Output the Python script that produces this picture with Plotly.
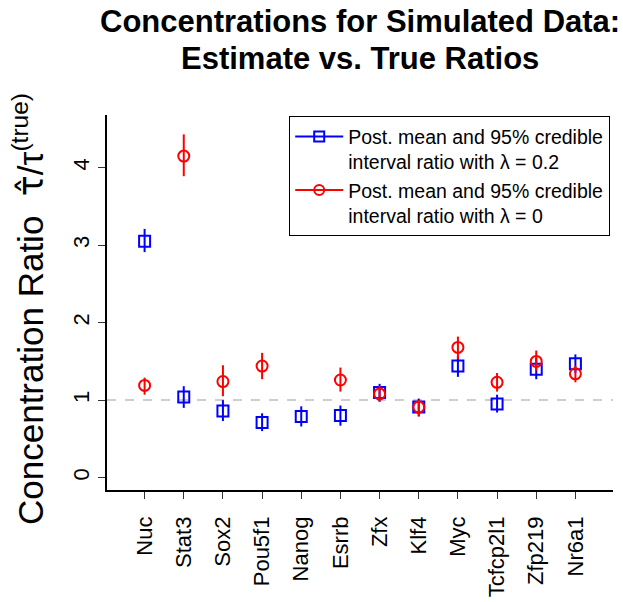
import plotly.graph_objects as go

# Transcription factors on the x axis
genes = ["Nuc", "Stat3", "Sox2", "Pou5f1", "Nanog", "Esrrb", "Zfx", "Klf4",
         "Myc", "Tcfcp2l1", "Zfp219", "Nr6a1"]

# Posterior mean ratio and 95% credible interval, lambda = 0.2
mean_l02 = [3.05, 1.04, 0.86, 0.71, 0.79, 0.80, 1.10, 0.91, 1.44, 0.95, 1.40, 1.47]
low_l02 = [2.91, 0.90, 0.73, 0.60, 0.66, 0.67, 0.98, 0.79, 1.30, 0.84, 1.27, 1.35]
high_l02 = [3.21, 1.18, 1.00, 0.83, 0.92, 0.93, 1.21, 1.02, 1.57, 1.07, 1.55, 1.59]

# Posterior mean ratio and 95% credible interval, lambda = 0 (Nanog not available)
mean_l0 = [1.19, 4.15, 1.24, 1.44, None, 1.26, 1.08, 0.91, 1.68, 1.23, 1.50, 1.34]
low_l0 = [1.07, 3.89, 1.05, 1.27, None, 1.11, 0.98, 0.79, 1.53, 1.11, 1.38, 1.23]
high_l0 = [1.29, 4.43, 1.45, 1.61, None, 1.42, 1.18, 1.00, 1.82, 1.35, 1.64, 1.44]

yticks = [0, 1, 2, 3, 4]

BLUE = "#0000FF"
RED = "#FF0000"
FONT = "Liberation Sans, Arial, Helvetica, sans-serif"

# plot area in pixels: left 107, right 613, top 115, bottom 490
PLOT_TOP, PLOT_BOTTOM, PLOT_LEFT, PLOT_W = 115, 490, 107, 506


def py(pix):
    """paper y coordinate of a pixel row"""
    return (PLOT_BOTTOM - pix) / (PLOT_BOTTOM - PLOT_TOP)


def px(pix):
    """paper x coordinate of a pixel column"""
    return (pix - PLOT_LEFT) / PLOT_W


def err(mean, low, high):
    plus = [None if m is None else h - m for m, h in zip(mean, high)]
    minus = [None if m is None else m - l for m, l in zip(mean, low)]
    return plus, minus


fig = go.Figure()

for mean, low, high, color, symbol in [
    (mean_l02, low_l02, high_l02, BLUE, "square-open"),
    (mean_l0, low_l0, high_l0, RED, "circle-open"),
]:
    plus, minus = err(mean, low, high)
    fig.add_trace(go.Scatter(
        x=genes, y=mean, mode="markers",
        marker=dict(symbol=symbol, size=11, color=color, line=dict(width=2, color=color)),
        error_y=dict(type="data", symmetric=False, array=plus, arrayminus=minus,
                     color=color, thickness=2, width=0),
        showlegend=False, hoverinfo="x+y",
    ))

# Legend entries (line through symbol)
legend_items = [
    ("Post. mean and 95% credible<br>interval ratio with λ = 0.2", BLUE, "square-open"),
    ("Post. mean and 95% credible<br>interval ratio with λ = 0", RED, "circle-open"),
]
for name, color, symbol in legend_items:
    fig.add_trace(go.Scatter(
        x=[None], y=[None], mode="lines+markers", name=name,
        line=dict(color=color, width=2),
        marker=dict(symbol=symbol, size=10, color=color, line=dict(width=2, color=color)),
    ))

# Reference line at ratio 1
fig.add_shape(type="line", xref="paper", x0=0, x1=1, yref="y", y0=1, y1=1,
              line=dict(color="#BEBEBE", width=1.5, dash="dash"), layer="below")

# Two-line bold title
for text, row in [("Concentrations for Simulated Data:", 21.5),
                  ("Estimate vs. True Ratios", 58.5)]:
    fig.add_annotation(
        xref="paper", yref="paper", x=0.5, y=py(row), text="<b>" + text + "</b>",
        showarrow=False, xanchor="center", yanchor="middle",
        font=dict(size=31, family=FONT, color="black"),
    )

# Y axis title with math part
fig.add_annotation(
    xref="paper", yref="paper", x=px(28), y=py(309),
    text=("Concentration Ratio  "
          "<span style='font-family:DejaVu Sans'>τ\u0302</span>/τ<sup>(true)</sup>"),
    textangle=-90, showarrow=False, font=dict(size=35, family=FONT, color="black"),
    xanchor="center", yanchor="middle",
)

fig.update_layout(
    width=623, height=602,
    margin=dict(l=107, r=10, t=115, b=112, pad=0),
    paper_bgcolor="white", plot_bgcolor="white",
    font=dict(family=FONT, color="black"),
    xaxis=dict(
        type="category", categoryorder="array", categoryarray=genes,
        range=[-0.96, 11.96], showgrid=False, zeroline=False, automargin=False,
        showline=True, linecolor="black", linewidth=1.5,
        ticks="outside", ticklen=7, tickwidth=1.2, tickcolor="#333333",
        tickangle=-90, ticklabelstandoff=9,
        tickfont=dict(size=22, family=FONT, color="black"),
    ),
    yaxis=dict(
        range=[-0.16, 4.68], tickvals=yticks, ticktext=[str(v) for v in yticks],
        showgrid=False, zeroline=False, automargin=False,
        showline=True, linecolor="black", linewidth=1.5,
        ticks="outside", ticklen=7, tickwidth=1.2, tickcolor="#333333",
        tickangle=-90, tickfont=dict(size=22, family=FONT, color="black"),
    ),
    legend=dict(
        x=px(289), y=py(116), xanchor="left", yanchor="top",
        bordercolor="black", borderwidth=1.2, bgcolor="white",
        font=dict(size=19.5, family=FONT, color="black"),
        valign="top", tracegroupgap=0, itemwidth=48,
    ),
)

fig.write_html("out.html")
